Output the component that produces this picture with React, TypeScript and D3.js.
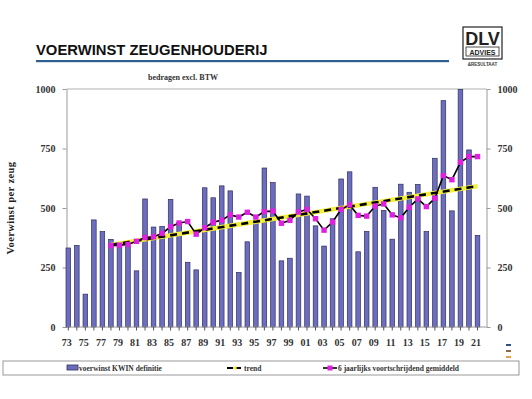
import React, { useRef, useEffect } from 'react';
import * as d3 from 'd3';

// Years shown on the x axis (1973 - 2021)
const YEARS = d3.range(1973, 2022);

// Voerwinst KWIN definitie per year (euro per zeug)
const VOERWINST = [
  332, 343, 138, 450, 401, 368, 345, 340, 236, 538,
  420, 422, 536, 440, 272, 240, 585, 543, 593, 572,
  229, 358, 440, 668, 607, 278, 289, 559, 550, 425,
  340, 455, 622, 652, 316, 402, 587, 490, 369, 600,
  566, 599, 401, 709, 951, 488, 998, 744, 385,
];

// 6 jaarlijks voortschrijdend gemiddeld, 1978 - 2021
const GEMIDDELD_START = 1978;
const GEMIDDELD = [
  342, 344, 347, 360, 376, 379, 393, 421, 437, 443,
  390, 417, 440, 449, 471, 462, 482, 462, 485, 487,
  436, 448, 483, 494, 455, 407, 441, 494, 513, 469,
  466, 508, 517, 471, 459, 503, 538, 506, 541, 636,
  619, 692, 716, 716,
];

// trend line end points
const TREND_YEARS = [1978, 2021];
const TREND_VALUES = [345, 592];

const Y_TICKS = [0, 250, 500, 750, 1000];

const LEGEND_LABELS = [
  'voerwinst KWIN definitie',
  'trend',
  '6 jaarlijks voortschrijdend gemiddeld',
];

const COLORS = {
  bar: '#6d6dbf',
  barStroke: '#2e2e60',
  trendYellow: '#f2ee3a',
  gemiddeld: '#e020e0',
  axis: '#9a9a9a',
  title: '#111111',
  rule: '#2f5f8f',
};

const SERIF = "'Liberation Serif', 'DejaVu Serif', serif";
const SANS = "'Liberation Sans', Arial, sans-serif";

export default function App() {
  const svgRef = useRef<SVGSVGElement>(null);
  const width = 532;
  const height = 399;

  useEffect(() => {
    const svg = d3.select(svgRef.current);
    svg.selectAll('*').remove();

    // plot frame
    const plot = { left: 66.5, right: 486.5, top: 89, bottom: 327 };

    const xScale = d3.scalePoint<number>()
      .domain(YEARS)
      .range([68.3, 477.5]);

    const yScale = d3.scaleLinear()
      .domain([0, 1000])
      .range([plot.bottom, plot.top]);

    svg.append('rect')
      .attr('width', width)
      .attr('height', height)
      .attr('fill', '#ffffff');

    // Title + rule
    svg.append('text')
      .attr('x', 36)
      .attr('y', 55)
      .style('font-family', SANS)
      .style('font-weight', 'bold')
      .style('font-size', '14.8px')
      .style('fill', COLORS.title)
      .style('white-space', 'pre')
      .text('VOERWINST ZEUGENHOUDERIJ');

    svg.append('rect')
      .attr('x', 36)
      .attr('y', 60)
      .attr('width', 413)
      .attr('height', 2.2)
      .attr('fill', COLORS.rule);

    // DLV logo
    const logo = svg.append('g').attr('transform', 'translate(463,27)');
    logo.append('rect')
      .attr('width', 39)
      .attr('height', 32)
      .attr('fill', 'none')
      .attr('stroke', '#222')
      .attr('stroke-width', 1.2);
    logo.append('text')
      .attr('x', 19.5)
      .attr('y', 17.5)
      .attr('text-anchor', 'middle')
      .style('font-family', SANS)
      .style('font-weight', 'bold')
      .style('font-size', '18px')
      .style('fill', '#222')
      .text('DLV');
    logo.append('rect')
      .attr('x', 3)
      .attr('y', 20)
      .attr('width', 33)
      .attr('height', 9)
      .attr('fill', 'none')
      .attr('stroke', '#222')
      .attr('stroke-width', 0.8);
    logo.append('text')
      .attr('x', 19.5)
      .attr('y', 27.5)
      .attr('text-anchor', 'middle')
      .style('font-family', SANS)
      .style('font-weight', 'bold')
      .style('font-size', '7px')
      .style('fill', '#222')
      .text('ADVIES');
    logo.append('text')
      .attr('x', 19.5)
      .attr('y', 39)
      .attr('text-anchor', 'middle')
      .style('font-family', SANS)
      .style('font-weight', 'bold')
      .style('font-size', '4.5px')
      .style('fill', '#333')
      .text('&RESULTAAT');

    // subtitle
    svg.append('text')
      .attr('x', 183)
      .attr('y', 80)
      .attr('text-anchor', 'middle')
      .style('font-family', SERIF)
      .style('font-weight', 'bold')
      .style('font-size', '8px')
      .style('fill', '#333')
      .text('bedragen excl. BTW');

    // y axis title
    svg.append('text')
      .attr('transform', `translate(14,${(plot.top + plot.bottom) / 2}) rotate(-90)`)
      .attr('text-anchor', 'middle')
      .style('font-family', SERIF)
      .style('font-weight', 'bold')
      .style('font-size', '10.5px')
      .style('letter-spacing', '0.4px')
      .style('fill', '#222')
      .text('Voerwinst per zeug');

    // frame lines
    svg.append('line')
      .attr('x1', plot.left).attr('x2', plot.right)
      .attr('y1', plot.top).attr('y2', plot.top)
      .attr('stroke', '#b0b0b0').attr('stroke-width', 1);

    const leftAxis = d3.axisLeft(yScale)
      .tickValues(Y_TICKS)
      .tickFormat(d3.format('d'))
      .tickSize(4)
      .tickPadding(7)
      .tickSizeOuter(0);
    const rightAxis = d3.axisRight(yScale)
      .tickValues(Y_TICKS)
      .tickFormat(d3.format('d'))
      .tickSize(4)
      .tickPadding(7)
      .tickSizeOuter(0);

    [svg.append('g').attr('transform', `translate(${plot.left},0)`).call(leftAxis),
     svg.append('g').attr('transform', `translate(${plot.right},0)`).call(rightAxis)]
      .forEach(g => {
        g.select('.domain').attr('stroke', COLORS.axis);
        g.selectAll('line').attr('stroke', COLORS.axis);
        g.selectAll('text')
          .style('font-family', SERIF)
          .style('font-weight', 'bold')
          .style('font-size', '10px')
          .style('fill', '#333');
      });

    // bars
    const barWidth = 4.6;
    svg.append('g')
      .selectAll('rect')
      .data(YEARS)
      .enter()
      .append('rect')
      .attr('x', d => xScale(d)! - barWidth / 2)
      .attr('y', (d, i) => yScale(VOERWINST[i]))
      .attr('width', barWidth)
      .attr('height', (d, i) => plot.bottom - yScale(VOERWINST[i]))
      .attr('fill', COLORS.bar)
      .attr('stroke', COLORS.barStroke)
      .attr('stroke-width', 0.7);

    // x axis
    const xAxisG = svg.append('g');
    xAxisG.append('line')
      .attr('x1', plot.left).attr('x2', plot.right)
      .attr('y1', plot.bottom).attr('y2', plot.bottom)
      .attr('stroke', COLORS.axis).attr('stroke-width', 1);
    xAxisG.selectAll('.xtick')
      .data(YEARS)
      .enter()
      .append('line')
      .attr('class', 'xtick')
      .attr('x1', d => xScale(d)!)
      .attr('x2', d => xScale(d)!)
      .attr('y1', plot.bottom)
      .attr('y2', plot.bottom + 3.5)
      .attr('stroke', '#555');
    xAxisG.selectAll('.xlabel')
      .data(YEARS.filter(y => (y - 1973) % 2 === 0))
      .enter()
      .append('text')
      .attr('class', 'xlabel')
      .attr('x', d => xScale(d)! - 1.5)
      .attr('y', 346)
      .attr('text-anchor', 'middle')
      .style('font-family', SERIF)
      .style('font-weight', 'bold')
      .style('font-size', '10px')
      .style('fill', '#333')
      .text(d => d3.format('02')(d % 100));

    // trend: yellow underlay + black dashes
    const trendData = TREND_YEARS.map((y, i) => ({ year: y, value: TREND_VALUES[i] }));
    const trendLine = d3.line<{ year: number; value: number }>()
      .x(d => xScale(d.year)!)
      .y(d => yScale(d.value));
    svg.append('path')
      .datum(trendData)
      .attr('d', trendLine)
      .attr('fill', 'none')
      .attr('stroke', COLORS.trendYellow)
      .attr('stroke-width', 4.5);
    svg.append('path')
      .datum(trendData)
      .attr('d', trendLine)
      .attr('fill', 'none')
      .attr('stroke', '#000')
      .attr('stroke-width', 2.6)
      .attr('stroke-dasharray', '7 5');

    // moving average
    const gemData = GEMIDDELD.map((v, i) => ({ year: GEMIDDELD_START + i, value: v }));
    svg.append('path')
      .datum(gemData)
      .attr('d', trendLine)
      .attr('fill', 'none')
      .attr('stroke', '#000')
      .attr('stroke-width', 1.6);
    svg.append('g')
      .selectAll('rect')
      .data(gemData)
      .enter()
      .append('rect')
      .attr('x', d => xScale(d.year)! - 2.7)
      .attr('y', d => yScale(d.value) - 2.7)
      .attr('width', 5.4)
      .attr('height', 5.4)
      .attr('fill', COLORS.gemiddeld);

    // legend
    const legend = svg.append('g');
    legend.append('rect')
      .attr('x', 3)
      .attr('y', 361)
      .attr('width', 516)
      .attr('height', 14)
      .attr('fill', '#fff')
      .attr('stroke', '#999')
      .attr('stroke-width', 1);
    const ly = 368;
    legend.append('rect')
      .attr('x', 67).attr('y', ly - 3)
      .attr('width', 11).attr('height', 5)
      .attr('fill', COLORS.bar)
      .attr('stroke', COLORS.barStroke)
      .attr('stroke-width', 0.8);
    legend.append('line')
      .attr('x1', 227).attr('x2', 243).attr('y1', ly).attr('y2', ly)
      .attr('stroke', '#000').attr('stroke-width', 2.2)
      .attr('stroke-dasharray', '6 2');
    legend.append('circle')
      .attr('cx', 235).attr('cy', ly).attr('r', 1.8)
      .attr('fill', COLORS.trendYellow);
    legend.append('line')
      .attr('x1', 323).attr('x2', 337).attr('y1', ly).attr('y2', ly)
      .attr('stroke', '#000').attr('stroke-width', 1.6);
    legend.append('rect')
      .attr('x', 327.5).attr('y', ly - 2.5)
      .attr('width', 5).attr('height', 5)
      .attr('fill', COLORS.gemiddeld);

    legend.selectAll('.legend-label')
      .data(LEGEND_LABELS)
      .enter()
      .append('text')
      .attr('class', 'legend-label')
      .attr('x', (d, i) => [79, 244, 338][i])
      .attr('y', ly + 2.8)
      .style('font-family', SERIF)
      .style('font-weight', 'bold')
      .style('font-size', '7.5px')
      .style('fill', '#333')
      .text(d => d);

    // small slide marks at right
    [['#2f4f7f', 344], ['#8a6a4a', 350], ['#e8a040', 356]].forEach(([c, y]) => {
      svg.append('rect')
        .attr('x', 506).attr('y', y as number)
        .attr('width', 5).attr('height', 2)
        .attr('fill', c as string);
    });
  }, []);

  return (
    <svg
      ref={svgRef}
      width={width}
      height={height}
      style={{ position: 'absolute', left: 0, top: 0 }}
    />
  );
}
